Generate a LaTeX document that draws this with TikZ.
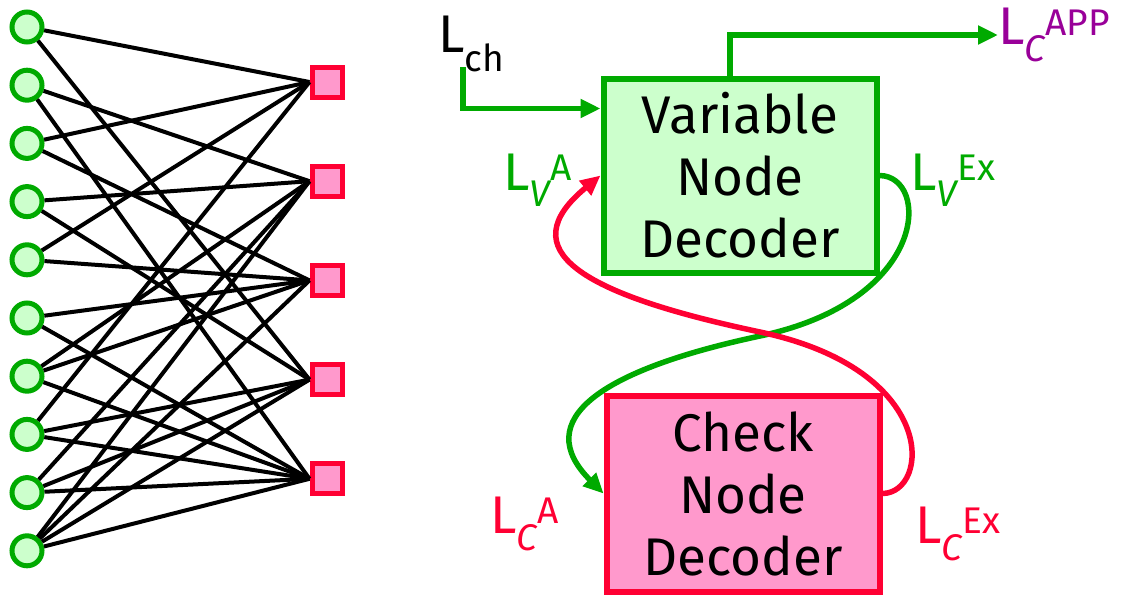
\documentclass[tikz,border=0pt]{standalone}
\usepackage{fontspec}
\setmainfont{Fira Sans}
\usetikzlibrary{arrows.meta}
\definecolor{vgreen}{HTML}{00AA00}
\definecolor{vfill}{HTML}{CCFFCC}
\definecolor{cred}{HTML}{FF0033}
\definecolor{cfill}{HTML}{FF99CC}
\definecolor{appviolet}{HTML}{990099}

\begin{document}
\begin{tikzpicture}[x=1pt, y=-1pt,
      var/.style={circle, draw=vgreen, fill=vfill, line width=5pt, minimum size=30pt, inner sep=0pt},
      chk/.style={rectangle, draw=cred, fill=cfill, line width=5pt, minimum size=30pt, inner sep=0pt},
      kante/.style={line width=4pt, black},
      blok/.style={draw, line width=6pt, minimum width=273pt, minimum height=194pt, align=center, font=\fontsize{53pt}{62pt}\selectfont},
      lbl/.style={inner sep=0pt, font=\fontsize{53pt}{53pt}\selectfont},
      panah/.style={-{Triangle[length=20pt, width=18pt]}, line width=5.5pt}]
      \useasboundingbox (0,0) rectangle (1121,597);

      % tanner graph: variable nodes left, check nodes right
      \foreach \i in {1,...,10} \node[var] (v\i) at (27, {27+58.2*(\i-1)}) {};
      \foreach \j in {1,...,5} \node[chk] (c\j) at (327, {82+99.2*(\j-1)}) {};

      \foreach \a/\b in {1/1, 3/1, 5/1, 8/1,
                         2/2, 4/2, 7/2, 9/2, 10/2,
                         3/3, 5/3, 6/3, 7/3, 10/3,
                         1/4, 4/4, 8/4, 9/4, 10/4,
                         2/5, 6/5, 7/5, 8/5, 9/5, 10/5}
        \draw[kante] (v\a) -- (c\b.west);

      % decoders
      \node[blok, draw=vgreen, fill=vfill] (vnd) at (740,175.5) {Variable\\ Node\\ Decoder};
      \node[blok, draw=cred, fill=cfill, minimum height=196pt] (cnd) at (743,493.5) {Check\\ Node\\ Decoder};

      % channel input and a-posteriori output
      \node[lbl, anchor=base west] (lch) at (438,52) {L\textsubscript{ch}};
      \coordinate (chin) at (463,67);
      \draw[panah, vgreen] (chin) |- ([yshift=67pt]vnd.west);
      \node[lbl, anchor=west, text=appviolet] (app) at (998,35) {L\textsubscript{\itshape C}\textsuperscript{APP}};
      \draw[panah, vgreen] ([xshift=-10pt]vnd.north) |- (app.west);

      % extrinsic / a-priori labels
      \node[lbl, anchor=base west, text=vgreen] (lva) at (503,190) {L\textsubscript{\itshape V}\textsuperscript{A}};
      \node[lbl, anchor=base west, text=vgreen] (lvex) at (910,190) {L\textsubscript{\itshape V}\textsuperscript{Ex}};
      \node[lbl, anchor=base west, text=cred] (lca) at (490,533) {L\textsubscript{\itshape C}\textsuperscript{A}};
      \node[lbl, anchor=base west, text=cred] (lcex) at (915,543) {L\textsubscript{\itshape C}\textsuperscript{Ex}};

      % exchange loop
      \draw[panah, vgreen] (vnd.east) .. controls (930,176) and (930,300) .. (760,336)
        .. controls (600,370) and (530,420) .. (cnd.west);
      \draw[panah, cred] (cnd.east) .. controls (930,493) and (940,370) .. (760,332)
        .. controls (580,294) and (510,250) .. (vnd.west);
    \end{tikzpicture}
\end{document}
